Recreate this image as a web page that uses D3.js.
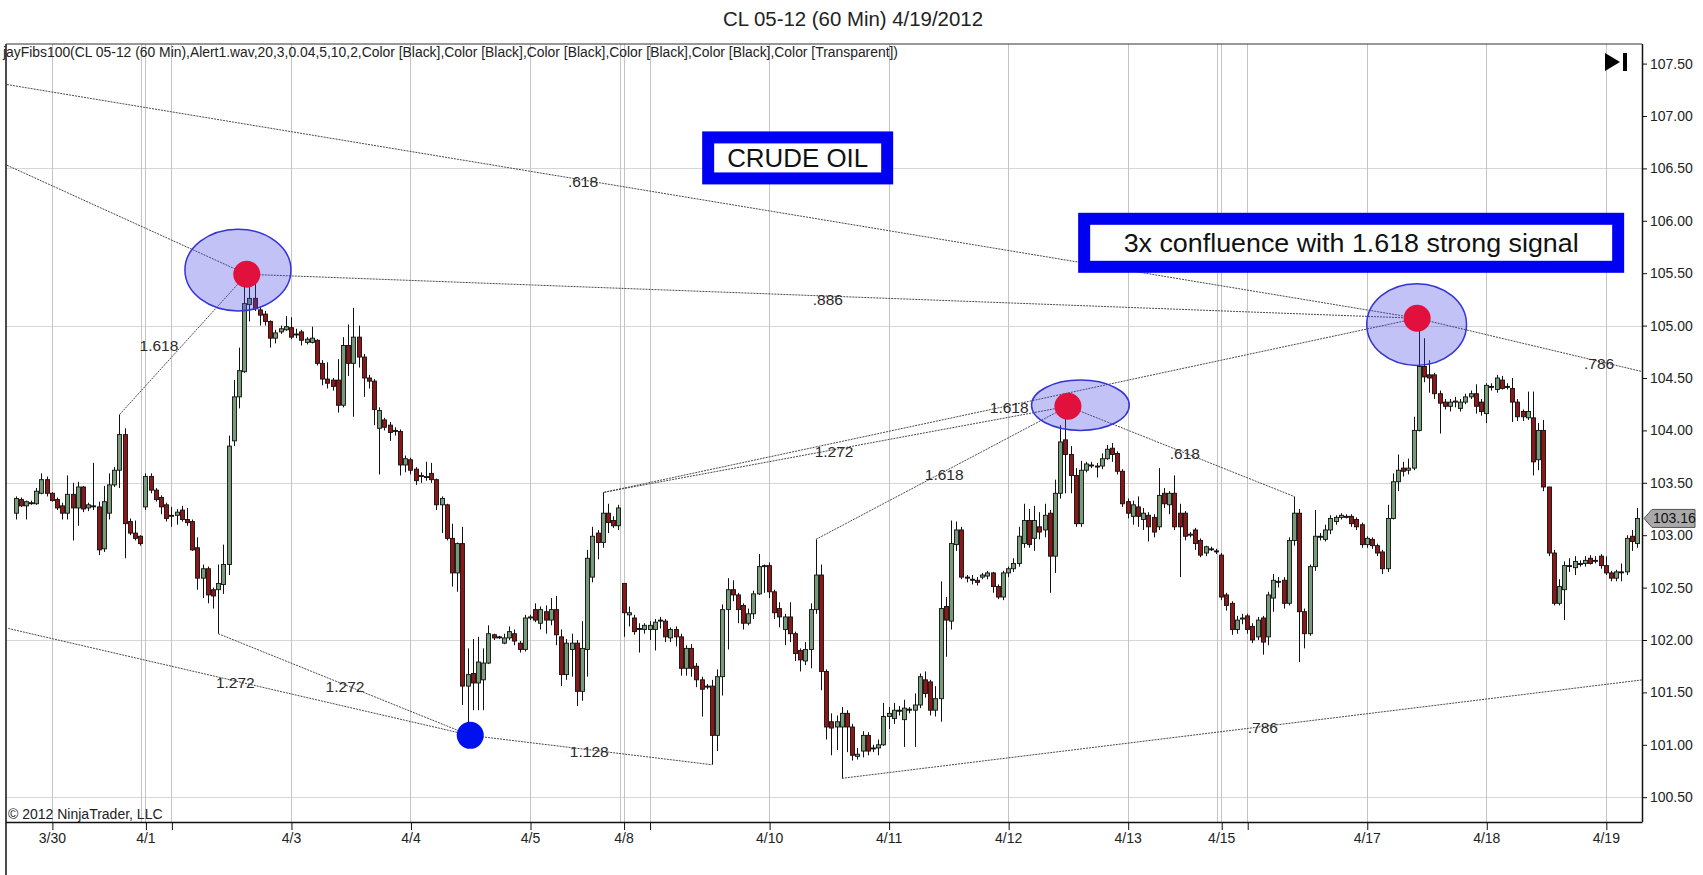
<!DOCTYPE html>
<html>
<head>
<meta charset="utf-8">
<script src="https://cdn.jsdelivr.net/npm/d3@7"></script>
<style>
body { margin: 0; background: #fff; }
svg text { font-family: "Liberation Sans", Arial, sans-serif; }
</style>
</head>
<body>
<div id="chart"></div>
<script>
// session start bars and their labels ("" = tick without label)
var dayIdx = [7, 25, 30, 53, 76, 99, 117, 122, 145, 168, 191, 214, 232, 237, 260, 283, 306];
var dayLbl = ["3/30", "4/1", "", "4/3", "4/4", "4/5", "4/8", "", "4/10", "4/11", "4/12", "4/13", "4/15", "", "4/17", "4/18", "4/19"];
var breakIdx = [25, 117, 232];

var priceTicks = [100.5, 101, 101.5, 102, 102.5, 103, 103.5, 104, 104.5, 105, 105.5, 106, 106.5, 107, 107.5];
var gridPrices = [100.5, 102, 103.5, 105, 106.5];

// 60 min bars, 3/29 evening .. 4/19 morning
var open = [
103.21,103.34,103.28,103.31,103.30,103.40,103.53,
103.40,103.34,103.28,103.21,103.39,103.26,103.46,103.26,103.28,103.27,102.87,103.21,103.48,103.62,103.96,103.13,103.02,102.99,
103.27,103.56,103.43,103.36,103.29,
103.19,103.19,103.24,103.15,103.13,102.88,102.59,102.68,102.48,102.48,102.53,102.72,103.90,104.32,104.56,105.20,105.26,105.15,105.11,105.04,104.88,104.94,104.96,
104.98,104.92,104.94,104.84,104.84,104.86,104.64,104.49,104.48,104.48,104.24,104.81,104.64,104.89,104.70,104.50,104.47,104.02,104.10,104.05,104.00,103.99,103.67,
103.72,103.63,103.56,103.56,103.59,103.53,103.29,103.29,102.97,102.64,102.92,101.56,101.68,101.59,101.62,101.78,102.05,102.03,101.97,102.02,102.06,101.97,101.91,
102.21,102.29,102.16,102.27,102.19,102.29,102.03,101.67,101.91,101.97,101.51,101.91,102.60,103.02,102.93,103.21,103.14,103.09,
102.54,102.24,102.21,102.11,102.10,
102.10,102.10,102.19,102.18,102.02,102.10,102.03,101.73,101.92,101.75,101.62,101.56,101.56,101.09,101.65,102.29,102.48,102.43,102.33,102.16,102.25,102.44,102.70,
102.71,102.46,102.30,102.10,102.22,102.06,101.90,101.80,101.91,102.29,102.62,101.70,101.22,101.17,101.17,101.30,101.17,100.89,100.94,101.09,100.97,100.97,101.00,
101.27,101.25,101.33,101.24,101.34,101.33,101.38,101.62,101.60,101.33,101.44,102.32,102.18,102.91,103.05,102.60,102.58,102.57,102.60,102.61,102.64,102.51,102.41,
102.64,102.68,102.73,102.92,103.14,102.97,103.08,103.05,103.21,102.80,103.40,103.91,103.77,103.57,103.11,103.62,103.67,103.66,103.66,103.73,103.83,103.78,103.61,
103.32,103.18,103.27,103.15,103.19,103.17,103.08,103.40,103.29,103.40,103.21,103.21,103.00,103.05,102.95,102.83,102.87,102.85,
102.81,102.43,102.35,102.10,102.20,
102.23,102.13,102.03,102.21,102.03,102.40,102.55,102.57,102.35,102.95,103.21,102.27,102.06,102.70,102.99,102.96,103.05,103.13,103.17,103.18,103.18,103.15,103.10,
102.91,102.96,102.90,102.84,102.68,103.16,103.51,103.64,103.62,103.64,104.00,104.61,104.53,104.53,104.35,104.27,104.23,104.27,104.21,104.27,104.32,104.35,104.27,
104.16,104.42,104.39,104.48,104.42,104.40,104.27,104.18,104.12,104.12,103.72,104.00,103.46,102.83,102.35,102.48,102.71,102.69,102.73,102.73,102.78,102.76,102.80,
102.71,102.64,102.59,102.65,102.65,102.99,102.92
];
var high = [
103.37,103.36,103.33,103.33,103.45,103.59,103.56,
103.41,103.36,103.31,103.57,103.50,103.51,103.47,103.31,103.69,103.32,103.47,103.59,103.65,104.15,104.02,103.16,103.14,103.00,
103.59,103.59,103.45,103.38,103.31,
103.27,103.25,103.28,103.26,103.15,102.98,102.72,102.70,102.50,102.72,102.91,103.95,104.48,104.79,105.49,105.40,105.40,105.18,105.14,105.05,104.96,105.00,105.09,
105.08,104.97,104.96,104.89,104.99,104.87,104.67,104.65,104.50,104.68,104.89,105.01,105.17,105.00,104.73,104.53,104.49,104.22,104.12,104.08,104.03,104.01,103.76,
103.74,103.65,103.60,103.70,103.69,103.54,103.37,103.30,103.11,102.93,103.08,101.92,102.01,102.03,101.92,102.14,102.06,102.04,102.06,102.13,102.10,101.99,102.24,
102.24,102.35,102.32,102.33,102.40,102.42,102.10,102.01,102.06,102.00,102.18,102.86,103.08,103.05,103.41,103.30,103.18,103.29,
102.54,102.32,102.24,102.16,102.16,
102.18,102.20,102.22,102.20,102.12,102.13,102.06,101.95,101.96,101.78,101.65,101.58,101.62,101.72,102.34,102.59,102.57,102.45,102.35,102.30,102.47,102.82,102.72,
102.74,102.48,102.36,102.25,102.36,102.08,101.92,101.98,102.35,102.96,102.72,101.72,101.30,101.28,101.36,101.33,101.20,100.97,101.13,101.12,101.00,101.05,101.40,
101.36,101.40,101.37,101.43,101.36,101.49,101.68,101.70,101.62,101.56,102.56,102.41,103.14,103.13,103.08,102.62,102.62,102.60,102.64,102.66,102.65,102.53,102.66,
102.70,102.78,103.08,103.30,103.25,103.28,103.22,103.30,103.24,103.53,104.05,104.24,103.85,103.64,103.71,103.70,103.70,103.69,103.78,103.86,103.88,103.80,103.63,
103.35,103.33,103.37,103.26,103.22,103.20,103.64,103.45,103.42,103.57,103.30,103.23,103.03,103.07,102.97,102.90,102.89,102.87,
102.83,102.45,102.37,102.23,102.25,
102.25,102.16,102.22,102.23,102.46,102.63,102.60,102.60,102.98,103.37,103.25,102.30,102.72,103.24,103.02,103.10,103.19,103.19,103.21,103.20,103.20,103.17,103.12,
102.99,102.98,102.92,102.86,103.29,103.59,103.77,103.70,103.73,104.13,105.06,104.88,104.67,104.55,104.38,104.30,104.30,104.32,104.30,104.35,104.38,104.44,104.30,
104.45,104.45,104.53,104.52,104.45,104.50,104.30,104.20,104.37,104.37,104.07,104.10,103.46,102.86,102.58,102.75,102.78,102.80,102.76,102.80,102.81,102.80,102.82,
102.80,102.66,102.67,102.73,103.00,103.05,103.26
];
var low = [
103.15,103.27,103.15,103.29,103.29,103.39,103.37,
103.32,103.24,103.15,103.15,102.95,103.09,103.22,103.23,103.24,102.81,102.84,103.15,103.46,103.45,102.78,103.00,102.95,102.90,
103.24,103.40,103.32,103.20,103.13,
103.08,103.10,103.13,103.09,102.85,102.48,102.40,102.35,102.30,102.06,102.44,102.62,103.85,104.21,104.55,105.04,105.14,105.00,105.00,104.79,104.83,104.92,104.95,
104.87,104.88,104.81,104.82,104.83,104.62,104.43,104.40,104.38,104.17,104.22,104.52,104.13,104.60,104.32,104.40,104.05,103.58,104.00,103.90,103.95,103.57,103.60,
103.58,103.48,103.50,103.52,103.50,103.24,103.02,102.95,102.51,102.46,101.38,101.09,101.33,101.33,101.33,101.77,102.00,102.01,101.96,102.00,101.95,101.88,101.89,
102.19,102.17,102.10,102.06,102.14,101.95,101.56,101.62,101.65,101.37,101.42,101.65,102.55,102.77,102.88,103.02,103.07,103.05,
102.03,102.13,102.05,101.88,102.06,
102.00,101.90,102.11,101.98,101.98,101.94,101.66,101.66,101.65,101.55,101.27,101.53,100.81,100.94,101.47,101.91,102.37,102.16,102.10,102.14,102.20,102.43,102.45,
102.40,102.20,102.12,101.95,101.98,101.80,101.70,101.76,101.73,102.25,101.52,101.05,100.90,100.95,100.68,100.93,100.85,100.86,100.88,100.90,100.93,100.90,100.99,
101.15,101.20,101.28,100.98,101.30,100.98,101.35,101.45,101.28,101.27,101.22,101.84,102.10,102.85,102.58,102.55,102.53,102.52,102.58,102.58,102.45,102.39,102.38,
102.60,102.65,102.70,102.88,102.88,102.85,102.96,102.98,102.45,102.64,103.35,103.40,103.40,103.08,103.08,103.60,103.64,103.55,103.63,103.72,103.70,103.58,103.27,
103.16,103.10,103.08,103.05,102.94,102.98,103.05,103.26,103.20,103.05,102.60,102.95,102.98,102.86,102.79,102.80,102.85,102.82,
102.38,102.28,102.05,102.06,102.15,
102.06,101.97,102.00,101.86,101.95,102.27,102.50,102.30,102.33,102.90,101.79,101.92,102.04,102.66,102.95,102.94,103.01,103.10,103.15,103.16,103.08,103.05,102.88,
102.88,102.87,102.80,102.63,102.65,103.15,103.42,103.56,103.58,103.62,103.99,104.46,104.36,104.30,103.97,104.20,104.18,104.22,104.18,104.25,104.30,104.16,104.14,
104.07,104.38,104.36,104.39,104.39,104.08,104.09,104.09,104.10,103.57,103.62,103.42,102.80,102.33,102.33,102.19,102.65,102.62,102.70,102.70,102.72,102.73,102.68,
102.62,102.56,102.56,102.56,102.62,102.85,102.88
];
var close = [
103.35,103.28,103.32,103.31,103.42,103.53,103.40,
103.33,103.26,103.21,103.39,103.26,103.46,103.25,103.29,103.28,102.86,103.32,103.48,103.62,103.96,103.11,103.02,102.97,102.92,
103.56,103.43,103.34,103.27,103.16,
103.19,103.22,103.15,103.12,102.86,102.59,102.68,102.43,102.42,102.54,102.72,103.85,104.32,104.57,105.21,105.26,105.16,105.10,105.04,104.88,104.93,104.97,104.99,
104.89,104.92,104.86,104.87,104.88,104.64,104.49,104.45,104.42,104.24,104.81,104.64,104.89,104.70,104.50,104.47,104.20,104.19,104.03,103.98,104.00,103.67,103.73,
103.62,103.52,103.57,103.55,103.53,103.29,103.35,102.97,102.64,102.92,101.56,101.67,101.59,101.79,101.78,102.06,102.02,102.03,102.02,102.08,101.99,101.91,102.21,
102.22,102.19,102.29,102.19,102.29,102.05,101.67,101.97,101.97,101.51,101.92,102.78,102.99,102.93,103.21,103.12,103.09,103.26,
102.26,102.26,102.08,102.11,102.14,
102.14,102.17,102.19,102.03,102.10,102.03,101.73,101.92,101.73,101.62,101.53,101.56,101.09,101.65,102.29,102.48,102.43,102.29,102.16,102.25,102.44,102.70,102.71,
102.46,102.26,102.22,102.22,102.06,101.87,101.81,101.91,102.29,102.62,101.70,101.17,101.16,101.22,101.30,101.17,100.90,100.91,101.09,100.94,100.97,101.00,101.27,
101.30,101.33,101.33,101.35,101.33,101.38,101.65,101.49,101.33,101.44,102.30,102.19,102.92,103.05,102.60,102.59,102.57,102.55,102.62,102.64,102.51,102.41,102.64,
102.68,102.73,102.99,103.14,102.91,103.14,103.03,103.19,102.80,103.40,103.89,103.77,103.57,103.11,103.62,103.68,103.67,103.66,103.73,103.82,103.77,103.61,103.30,
103.21,103.29,103.18,103.21,103.08,103.03,103.38,103.30,103.40,103.08,103.08,102.99,103.01,102.92,102.81,102.89,102.87,102.85,
102.41,102.33,102.10,102.19,102.21,
102.10,102.00,102.19,101.98,102.43,102.57,102.56,102.35,102.95,103.21,102.27,102.06,102.70,102.99,102.99,103.05,103.16,103.17,103.19,103.18,103.11,103.08,102.91,
102.97,102.90,102.83,102.68,103.16,103.51,103.62,103.61,103.64,104.00,104.61,104.51,104.50,104.35,104.26,104.23,104.27,104.28,104.27,104.32,104.35,104.23,104.18,
104.43,104.42,104.50,104.40,104.42,104.27,104.13,104.13,104.18,103.70,104.00,103.46,102.83,102.35,102.51,102.71,102.71,102.75,102.73,102.76,102.73,102.76,102.71,
102.64,102.59,102.65,102.65,102.97,102.94,103.16
];

// fib drawing lines: [bar1, price1, bar2, price2]
var fibLines = [
  [-1.64, 107.30, 269.7, 105.07],
  [269.7, 105.07, 313.1, 104.56],
  [-1.64, 106.53, 44.5, 105.49],
  [44.5, 105.49, 269.7, 105.07],
  [20, 104.15, 44.5, 105.49],
  [113.3, 103.41, 202.5, 104.23],
  [113.3, 103.41, 269.7, 105.07],
  [154, 102.96, 202.5, 104.23],
  [202.5, 104.23, 246, 103.37],
  [-1.4, 102.11, 87.5, 101.09],
  [39, 102.06, 87.5, 101.09],
  [87.5, 101.09, 134, 100.81],
  [159, 100.68, 313.1, 101.62]
];
// fib ratio labels: [bar, price, text]
var fibLabels = [
  [109.2, 106.37, ".618"],
  [304.7, 104.64, ".786"],
  [156.3, 105.25, ".886"],
  [27.6, 104.81, "1.618"],
  [157.5, 103.80, "1.272"],
  [191.2, 104.22, "1.618"],
  [178.7, 103.58, "1.618"],
  [225, 103.78, ".618"],
  [42.3, 101.59, "1.272"],
  [63.4, 101.56, "1.272"],
  [110.4, 100.94, "1.128"],
  [240, 101.16, ".786"]
];
// confluence zones: [bar, price, half width in bars, half height in price]
var zones = [
  [42.8, 105.53, 10.2, 0.39],
  [204.9, 104.24, 9.4, 0.24],
  [269.6, 105.01, 9.6, 0.39]
];
// pivot markers: [bar, price, kind]
var pivots = [
  [44.5, 105.49, "high"],
  [202.5, 104.23, "high"],
  [269.7, 105.07, "high"],
  [87.5, 101.09, "low"]
];
// text boxes: [bar, price, text]
var notes = [
  [150.5, 106.60, "CRUDE OIL"],
  [257.0, 105.79, "3x confluence with 1.618 strong signal"]
];

var W = 1703, H = 875;
var frame = {left: 6, top: 44, right: 1642, bottom: 822};
var upColor = "#779a79", downColor = "#8a1818";
var noteSize = [[191, 53, 141], [546, 60, 455]];

var x = d3.scaleLinear().domain([0, open.length - 1]).range([15.5, 1637]);
var y = d3.scaleLinear().domain([100.5, 107.5]).range([797.2, 63.6]);

var svg = d3.select("#chart").append("svg")
	.attr("width", W)
	.attr("height", H);

svg.append("defs").append("clipPath")
	.attr("id", "plotclip")
	.append("rect")
	.attr("x", frame.left)
	.attr("y", frame.top)
	.attr("width", frame.right - frame.left)
	.attr("height", frame.bottom - frame.top);

// titles
svg.append("text")
	.attr("x", 853)
	.attr("y", 26)
	.attr("text-anchor", "middle")
	.attr("font-size", 19.5)
	.attr("fill", "#222")
	.attr("textLength", 260)
	.attr("lengthAdjust", "spacingAndGlyphs")
	.text("CL 05-12 (60 Min)  4/19/2012");

var plot = svg.append("g").attr("clip-path", "url(#plotclip)");

// grid
plot.selectAll("line.hgrid")
	.data(gridPrices)
	.enter().append("line")
	.attr("class", "hgrid")
	.attr("x1", frame.left).attr("x2", frame.right)
	.attr("y1", function(d) { return Math.round(y(d)) + 0.5; })
	.attr("y2", function(d) { return Math.round(y(d)) + 0.5; })
	.attr("stroke", "#d6d6d6");

plot.selectAll("line.vgrid")
	.data(dayIdx)
	.enter().append("line")
	.attr("class", "vgrid")
	.attr("x1", function(d) { return Math.round(x(d)) + 0.5; })
	.attr("x2", function(d) { return Math.round(x(d)) + 0.5; })
	.attr("y1", frame.top).attr("y2", frame.bottom)
	.attr("stroke", "#c4c4c4");

plot.selectAll("line.brk")
	.data(breakIdx)
	.enter().append("line")
	.attr("class", "brk")
	.attr("x1", function(d) { return Math.round(x(d)) - 3.5; })
	.attr("x2", function(d) { return Math.round(x(d)) - 3.5; })
	.attr("y1", frame.top).attr("y2", frame.bottom)
	.attr("stroke", "#c4c4c4");

// indicator caption
svg.append("text")
	.attr("x", 3)
	.attr("y", 57)
	.attr("font-size", 14)
	.attr("fill", "#222")
	.attr("textLength", 895)
	.attr("lengthAdjust", "spacingAndGlyphs")
	.text("jayFibs100(CL 05-12 (60 Min),Alert1.wav,20,3,0.04,5,10,2,Color [Black],Color [Black],Color [Black],Color [Black],Color [Black],Color [Transparent])");

// candles
var bars = d3.range(open.length).map(function(i) {
	return {i: i, o: open[i], h: high[i], l: low[i], c: close[i]};
});

plot.selectAll("line.wick")
	.data(bars)
	.enter().append("line")
	.attr("class", "wick")
	.attr("x1", function(d) { return Math.round(x(d.i)) + 0.5; })
	.attr("x2", function(d) { return Math.round(x(d.i)) + 0.5; })
	.attr("y1", function(d) { return y(d.h); })
	.attr("y2", function(d) { return y(d.l); })
	.attr("stroke", "#111")
	.attr("stroke-width", 1);

plot.selectAll("rect.body")
	.data(bars)
	.enter().append("rect")
	.attr("class", "body")
	.attr("x", function(d) { return Math.round(x(d.i)) - 1.5; })
	.attr("width", 4)
	.attr("y", function(d) { return y(Math.max(d.o, d.c)); })
	.attr("height", function(d) { return Math.max(1, Math.abs(y(d.o) - y(d.c))); })
	.attr("fill", function(d) { return d.c > d.o ? upColor : (d.c < d.o ? downColor : "#111"); })
	.attr("stroke", "#111")
	.attr("stroke-width", 0.9);

// fib lines
plot.selectAll("line.fib")
	.data(fibLines)
	.enter().append("line")
	.attr("class", "fib")
	.attr("x1", function(d) { return x(d[0]); })
	.attr("y1", function(d) { return y(d[1]); })
	.attr("x2", function(d) { return x(d[2]); })
	.attr("y2", function(d) { return y(d[3]); })
	.attr("stroke", "#4a4a4a")
	.attr("stroke-width", 1)
	.attr("stroke-dasharray", "2,1");

plot.selectAll("ellipse.zone")
	.data(zones)
	.enter().append("ellipse")
	.attr("class", "zone")
	.attr("cx", function(d) { return x(d[0]); })
	.attr("cy", function(d) { return y(d[1]); })
	.attr("rx", function(d) { return x(d[0] + d[2]) - x(d[0]); })
	.attr("ry", function(d) { return y(d[1] - d[3]) - y(d[1]); })
	.attr("fill", "rgba(70,70,230,0.33)")
	.attr("stroke", "#3434d6")
	.attr("stroke-width", 1.5);

plot.selectAll("circle.pivot")
	.data(pivots)
	.enter().append("circle")
	.attr("class", "pivot")
	.attr("cx", function(d) { return x(d[0]); })
	.attr("cy", function(d) { return y(d[1]); })
	.attr("r", 13.5)
	.attr("fill", function(d) { return d[2] == "high" ? "#e2103c" : "#0010ee"; });

plot.selectAll("text.fiblbl")
	.data(fibLabels)
	.enter().append("text")
	.attr("class", "fiblbl")
	.attr("x", function(d) { return x(d[0]); })
	.attr("y", function(d) { return y(d[1]); })
	.attr("dy", "0.35em")
	.attr("text-anchor", "middle")
	.attr("font-size", 15.5)
	.attr("fill", "#2a2a2a")
	.text(function(d) { return d[2]; });

// text boxes
var note = plot.selectAll("g.note")
	.data(notes)
	.enter().append("g")
	.attr("class", "note")
	.attr("transform", function(d) { return "translate(" + x(d[0]) + "," + y(d[1]) + ")"; });

note.append("rect")
	.attr("x", function(d, i) { return -noteSize[i][0] / 2 + 6; })
	.attr("y", function(d, i) { return -noteSize[i][1] / 2 + 6; })
	.attr("width", function(d, i) { return noteSize[i][0] - 12; })
	.attr("height", function(d, i) { return noteSize[i][1] - 12; })
	.attr("fill", "#fff")
	.attr("stroke", "#0000f2")
	.attr("stroke-width", 12);

note.append("text")
	.attr("text-anchor", "middle")
	.attr("dy", "0.36em")
	.attr("font-size", 26)
	.attr("fill", "#111")
	.attr("textLength", function(d, i) { return noteSize[i][2]; })
	.attr("lengthAdjust", "spacingAndGlyphs")
	.text(function(d) { return d[2]; });

svg.append("text")
	.attr("x", 8)
	.attr("y", 819)
	.attr("font-size", 14)
	.attr("fill", "#222")
	.text("\u00a9 2012 NinjaTrader, LLC");

// axes
var xAxis = d3.axisBottom(x)
	.tickValues(dayIdx)
	.tickFormat(function(d, i) { return dayLbl[i]; })
	.tickSizeInner(8)
	.tickSizeOuter(0);

var xAxisG = svg.append("g")
	.attr("transform", "translate(0," + frame.bottom + ")")
	.call(xAxis);
xAxisG.select(".domain").remove();
xAxisG.selectAll(".tick line").attr("stroke", "#111").attr("transform", "translate(0.5,0)");
xAxisG.selectAll(".tick text").attr("font-size", 14).attr("fill", "#222").attr("font-family", null);

var yAxis = d3.axisRight(y)
	.tickValues(priceTicks)
	.tickFormat(d3.format(".2f"))
	.tickSizeInner(5)
	.tickSizeOuter(0);

var yAxisG = svg.append("g")
	.attr("transform", "translate(" + frame.right + ",0)")
	.call(yAxis);
yAxisG.select(".domain").remove();
yAxisG.selectAll(".tick line").attr("stroke", "#111");
yAxisG.selectAll(".tick text").attr("font-size", 14).attr("fill", "#222").attr("font-family", null);

// frame
svg.append("line")
	.attr("x1", frame.left).attr("x2", frame.left)
	.attr("y1", frame.top).attr("y2", H)
	.attr("stroke", "#111").attr("stroke-width", 1.5);
svg.append("line")
	.attr("x1", frame.left).attr("x2", frame.right)
	.attr("y1", frame.top).attr("y2", frame.top)
	.attr("stroke", "#333").attr("stroke-width", 1);
svg.append("line")
	.attr("x1", frame.left).attr("x2", frame.right + 0.5)
	.attr("y1", frame.bottom + 0.5).attr("y2", frame.bottom + 0.5)
	.attr("stroke", "#111").attr("stroke-width", 1.5);
svg.append("line")
	.attr("x1", frame.right + 0.5).attr("x2", frame.right + 0.5)
	.attr("y1", frame.top).attr("y2", frame.bottom)
	.attr("stroke", "#111").attr("stroke-width", 1.5);

// last price marker
var last = close[close.length - 1], ly = y(last);
svg.append("path")
	.attr("d", "M" + (frame.right + 2) + "," + ly + "L" + (frame.right + 10) + "," + (ly - 9) +
		"H1695V" + (ly + 9) + "H" + (frame.right + 10) + "Z")
	.attr("fill", "#a9a9a9")
	.attr("stroke", "#555");
svg.append("text")
	.attr("x", frame.right + 11)
	.attr("y", ly)
	.attr("dy", "0.36em")
	.attr("font-size", 14)
	.attr("fill", "#111")
	.text(last.toFixed(2));

// chart trader "go to end" button
svg.append("path")
	.attr("d", "M1605,53L1620,62L1605,71Z")
	.attr("fill", "#000");
svg.append("rect")
	.attr("x", 1623).attr("y", 53)
	.attr("width", 4).attr("height", 18)
	.attr("fill", "#000");
</script>
</body>
</html>
